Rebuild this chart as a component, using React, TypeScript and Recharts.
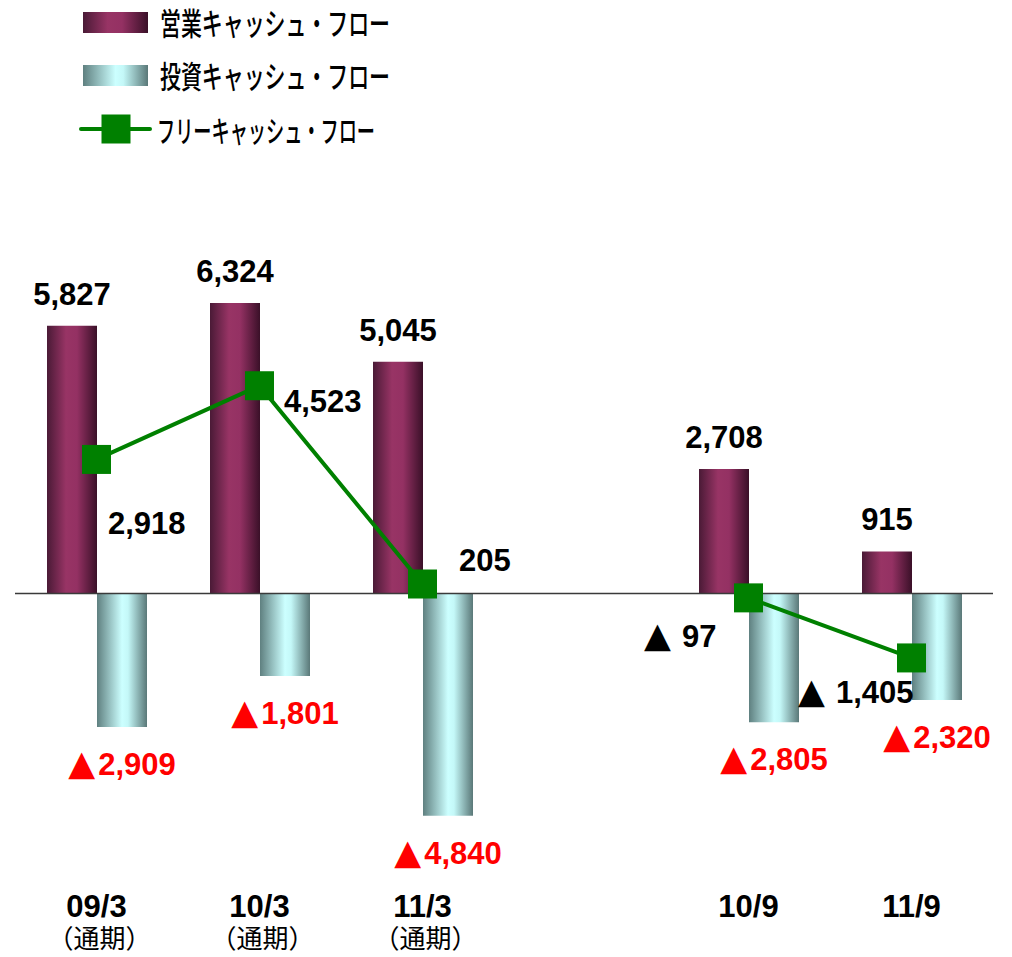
import React from 'react';
import { ComposedChart, Bar, Line, XAxis, YAxis, ReferenceLine, LabelList, Legend } from 'recharts';

// ---- data ----
const categories = ['09/3', '10/3', '11/3', '', '10/9', '11/9'];
const periodNotes = ['（通期）', '（通期）', '（通期）', '', '', ''];
const operatingCF: (number | null)[] = [5827, 6324, 5045, null, 2708, 915];
const investingCF: (number | null)[] = [-2909, -1801, -4840, null, -2805, -2320];
const freeCF: (number | null)[] = [2918, 4523, 205, null, -97, -1405];

const seriesNames = ['営業キャッシュ・フロー', '投資キャッシュ・フロー', 'フリーキャッシュ・フロー'];

const data = categories.map((c, i) => ({
  category: c,
  note: periodNotes[i],
  operating: operatingCF[i],
  investing: investingCF[i],
  free: freeCF[i],
}));

// hand-placed label offsets for the free cash-flow points (as in the original slide)
const freeLabelPlacement = [
  { dx: 11.5, dy: 75 },
  { dx: 24.5, dy: 26 },
  { dx: 36.5, dy: -13 },
  { dx: -104.5, dy: 49 },
  { dx: -113.5, dy: 45 },
];

const NUM_FONT = '"Liberation Sans", Arial, "DejaVu Sans", sans-serif';
const TRI_FONT = '"DejaVu Sans", sans-serif';
const JP_FONT = '"Noto Sans CJK JP", "Noto Sans", sans-serif';
const GREEN = '#008000';

const fmt = (v: number) => Math.abs(v).toLocaleString('en-US');

const rectOf = (p: any) => {
  const vb = p.viewBox && typeof p.viewBox.x === 'number' ? p.viewBox : p;
  const x = Number(vb.x ?? p.x);
  const y = Number(vb.y ?? p.y);
  const w = Number(vb.width ?? p.width ?? 0);
  const h = Number(vb.height ?? p.height ?? 0);
  return { x, y, w, top: Math.min(y, y + h), bottom: Math.max(y, y + h) };
};

const OperatingLabel = (p: any) => {
  if (p.value == null) return null;
  const r = rectOf(p);
  return (
    <text x={r.x + r.w / 2} y={r.top - 21} textAnchor="middle" fontFamily={NUM_FONT} fontWeight="bold" fontSize={31} fill="#000">
      {fmt(p.value)}
    </text>
  );
};

const InvestingLabel = (p: any) => {
  if (p.value == null) return null;
  const r = rectOf(p);
  return (
    <text x={r.x + r.w / 2} y={r.bottom + 48} textAnchor="middle" fontFamily={NUM_FONT} fontWeight="bold" fontSize={31} fill="#ff0000">
      <tspan fontFamily={TRI_FONT} fontSize={35}>▲</tspan>
      <tspan dx={3}>{fmt(p.value)}</tspan>
    </text>
  );
};

const FreeLabel = (p: any) => {
  if (p.value == null) return null;
  const idx = p.index > 3 ? p.index - 1 : p.index;
  const place = freeLabelPlacement[idx];
  if (!place) return null;
  const x = Number(p.x ?? p.viewBox?.x);
  const y = Number(p.y ?? p.viewBox?.y);
  return (
    <text x={x + place.dx} y={y + place.dy} textAnchor="start" fontFamily={NUM_FONT} fontWeight="bold" fontSize={31} fill="#000">
      {p.value < 0 ? <tspan fontFamily={TRI_FONT} fontSize={35}>▲</tspan> : null}
      {p.value < 0 ? <tspan dx={11}>{fmt(p.value)}</tspan> : fmt(p.value)}
    </text>
  );
};

const SquareDot = (p: any) => {
  const { cx, cy, index } = p;
  if (cx == null || cy == null || p.value == null) return <g key={`d-${index}`} />;
  return <rect key={`d-${index}`} x={cx - 14.5} y={cy - 14.5} width={29} height={29} fill={GREEN} />;
};

const CategoryTick = (p: any) => {
  const { x, y, index } = p;
  const label = categories[index];
  const note = periodNotes[index];
  if (!label) return null;
  return (
    <g>
      <text x={x} y={y + 94} textAnchor="middle" fontFamily={NUM_FONT} fontWeight="bold" fontSize={31} fill="#000">
        {label}
      </text>
      {note ? (
        <text x={x + 3} y={y + 125} textAnchor="middle" fontFamily={JP_FONT} fontSize={26} fill="#000">
          {note}
        </text>
      ) : null}
    </g>
  );
};

const LegendContent = () => (
  <svg width={520} height={160} style={{ display: 'block' }}>
    <defs>
      <linearGradient id="lgOp" x1="0" y1="0" x2="1" y2="0">
        <stop offset="0" stopColor="#4a1a36" />
        <stop offset="0.38" stopColor="#983465" />
        <stop offset="0.6" stopColor="#943163" />
        <stop offset="1" stopColor="#3a1028" />
      </linearGradient>
      <linearGradient id="lgInv" x1="0" y1="0" x2="1" y2="0">
        <stop offset="0" stopColor="#5f8080" />
        <stop offset="0.5" stopColor="#ccffff" />
        <stop offset="0.62" stopColor="#c4f8f8" />
        <stop offset="1" stopColor="#5a7878" />
      </linearGradient>
    </defs>
    <rect x={83} y={12} width={65} height={21} fill="url(#lgOp)" />
    <text x={160} y={35} fontFamily={JP_FONT} fontWeight={500} fontSize={31} textLength={230} lengthAdjust="spacingAndGlyphs" fill="#000">
      {seriesNames[0]}
    </text>
    <rect x={83} y={65} width={65} height={21} fill="url(#lgInv)" />
    <text x={160} y={88} fontFamily={JP_FONT} fontWeight={500} fontSize={31} textLength={230} lengthAdjust="spacingAndGlyphs" fill="#000">
      {seriesNames[1]}
    </text>
    <line x1={81} y1={129} x2={150} y2={129} stroke={GREEN} strokeWidth={4} strokeLinecap="round" />
    <rect x={101.5} y={114.5} width={29} height={29} fill={GREEN} />
    <text x={157} y={142} fontFamily={JP_FONT} fontWeight={500} fontSize={30} textLength={218} lengthAdjust="spacingAndGlyphs" fill="#000">
      {seriesNames[2]}
    </text>
  </svg>
);

export default function App() {
  return (
    <div style={{ position: 'absolute', left: 0, top: 0, width: 1012, height: 957, background: '#fff' }}>
      <ComposedChart
        width={1012}
        height={957}
        data={data}
        margin={{ top: 272, right: 19, left: 15, bottom: 0 }}
        barGap={0}
        barSize={50}
      >
        <defs>
          <linearGradient id="gOp" x1="0" y1="0" x2="1" y2="0">
            <stop offset="0" stopColor="#4a1a36" />
            <stop offset="0.38" stopColor="#983465" />
            <stop offset="0.6" stopColor="#943163" />
            <stop offset="1" stopColor="#3a1028" />
          </linearGradient>
          <linearGradient id="gInv" x1="0" y1="0" x2="1" y2="0">
            <stop offset="0" stopColor="#5f8080" />
            <stop offset="0.5" stopColor="#ccffff" />
            <stop offset="0.62" stopColor="#c4f8f8" />
            <stop offset="1" stopColor="#5a7878" />
          </linearGradient>
        </defs>
        <XAxis
          dataKey="category"
          height={134}
          axisLine={false}
          tickLine={false}
          tickSize={0}
          tickMargin={0}
          interval={0}
          allowDuplicatedCategory
          tick={<CategoryTick />}
        />
        <YAxis hide domain={[-5000, 7000]} allowDataOverflow />
        <Legend
          layout="vertical"
          align="center"
          verticalAlign="middle"
          wrapperStyle={{ top: 0, left: 0, width: 520, height: 160 }}
          content={() => <LegendContent />}
        />
        <Bar dataKey="operating" name={seriesNames[0]} fill="url(#gOp)" isAnimationActive={false}>
          <LabelList dataKey="operating" content={<OperatingLabel />} />
        </Bar>
        <Bar dataKey="investing" name={seriesNames[1]} fill="url(#gInv)" isAnimationActive={false}>
          <LabelList dataKey="investing" content={<InvestingLabel />} />
        </Bar>
        <ReferenceLine y={0} stroke="#3a3a3a" strokeWidth={1.5} />
        <Line
          dataKey="free"
          name={seriesNames[2]}
          stroke={GREEN}
          strokeWidth={4}
          dot={<SquareDot />}
          activeDot={false}
          connectNulls={false}
          isAnimationActive={false}
        >
          <LabelList dataKey="free" content={<FreeLabel />} />
        </Line>
      </ComposedChart>
    </div>
  );
}
